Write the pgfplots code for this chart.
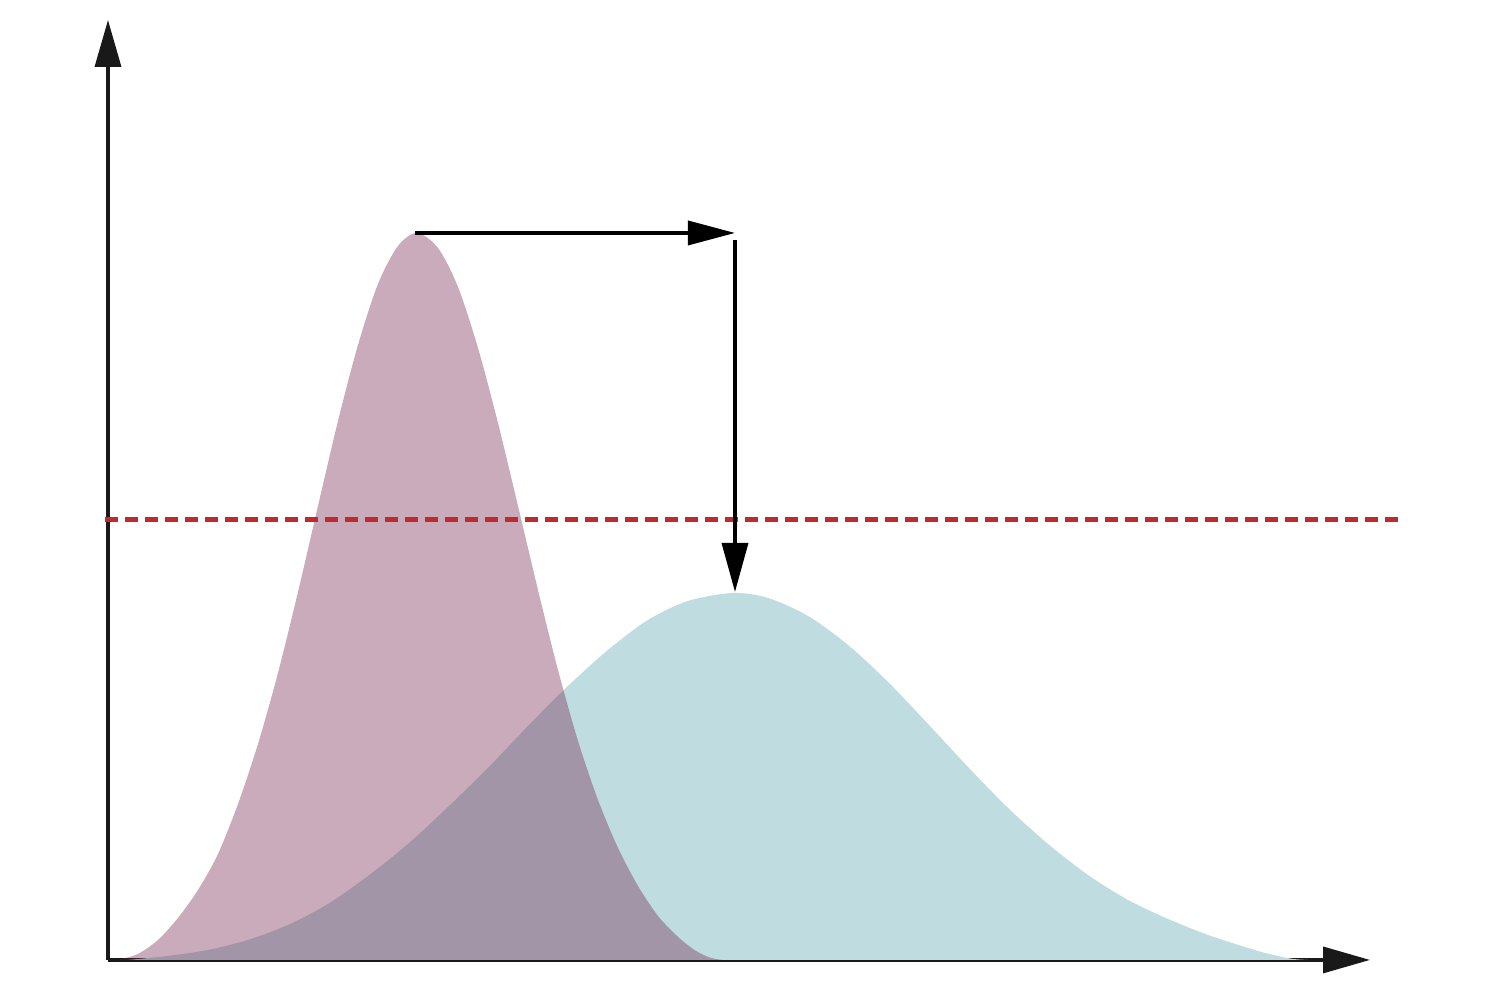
\documentclass[border=0pt]{standalone}
\usepackage{pgfplots}
\pgfplotsset{compat=1.18}
\usetikzlibrary{arrows.meta}

\definecolor{pinkbase}{RGB}{113,34,76}
\definecolor{tealfill}{RGB}{191,220,224}
\definecolor{dashred}{RGB}{190,42,46}

\begin{document}
\begin{tikzpicture}
\begin{axis}[
    scale only axis,
    width=12.62cm, height=9.40cm,
    xmin=0, xmax=1262,
    ymin=0, ymax=940,
    axis lines=left,
    axis line style={line width=0.035cm, black!90, -{Triangle[length=0.47cm,width=0.26cm]}},
    xtick=\empty, ytick=\empty,
    clip=false,
]
% keep the picture the size of the reference
\path (-108,-40) rectangle (1392,960);

% second wave
\addplot[draw=none, fill=tealfill, smooth] coordinates {
    (20,0)(60,4)(100,10)(140,20)(180,35)(220,56)(260,84)(300,116)
    (340,153)(380,192)(420,234)(460,274)(500,310)(540,340)(580,359)
    (625,367)(660,362)(700,344)(740,315)(780,278)(820,236)(860,193)
    (900,152)(940,116)(980,85)(1020,60)(1060,41)(1100,25)(1140,12)
    (1165,5)(1185,1)(1200,0)
} \closedcycle;

% first wave (semi-transparent, on top)
\addplot[draw=none, fill=pinkbase, fill opacity=0.38, smooth] coordinates {
    (10,0)(30,6)(50,20)(70,42)(90,70)(110,106)(130,156)(150,216)
    (170,287)(190,368)(210,454)(230,539)(250,615)(270,676)(290,714)
    (309,727)(330,712)(350,673)(370,612)(390,537)(410,454)(430,370)
    (450,290)(470,219)(490,160)(510,112)(530,74)(550,44)(570,23)
    (588,9)(603,2)(615,0)
} \closedcycle;

% capacity line
\addplot[dashred, line width=0.05cm, dash pattern=on 0.135cm off 0.065cm]
    coordinates {(-3,440)(1292,440)};

% shift arrows
\addplot[black, line width=0.035cm, -{Triangle[length=0.47cm,width=0.24cm]}]
    coordinates {(307,727)(627,727)};
\addplot[black, line width=0.035cm, -{Triangle[length=0.49cm,width=0.26cm]}]
    coordinates {(627,720)(627,368)};
\end{axis}
\end{tikzpicture}
\end{document}
